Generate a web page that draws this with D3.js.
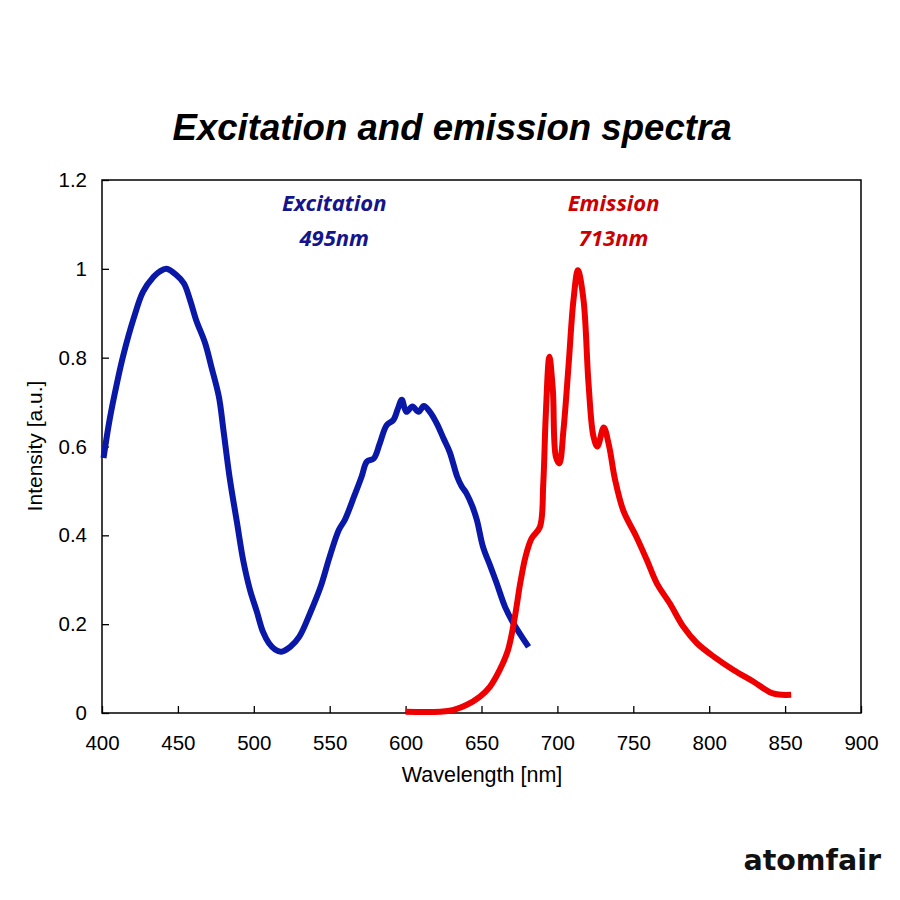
<!DOCTYPE html>
<html>
<head>
<meta charset="utf-8">
<script src="https://cdn.jsdelivr.net/npm/d3@7"></script>
<style>
  body { margin: 0; background: #fff; }
  svg { display: block; }
</style>
</head>
<body>
<svg id="chart" width="900" height="900"></svg>
<script>
// excitation spectrum (wavelength nm, intensity a.u.)
const excWave = [401, 405, 410, 414, 421, 427, 434, 438, 442.5, 449, 454, 458, 462, 468, 472, 477, 480, 484, 489, 493, 497.5, 502, 506, 510, 514, 518,
  524, 530, 537, 544, 550, 556, 560, 566, 571, 574.5, 579, 583, 587.5, 592, 595, 597.5, 600.5, 604.5, 608.5, 612, 616, 620.5, 625, 629, 634, 637, 640, 644, 647, 651, 656, 660, 665.5, 671, 676.5, 681];
const excVal = [0.574, 0.66, 0.745, 0.805, 0.89, 0.948, 0.982, 0.994, 1.0, 0.986, 0.967, 0.93, 0.885, 0.832, 0.78, 0.712, 0.637, 0.532, 0.427, 0.344, 0.277, 0.228, 0.183, 0.157, 0.143, 0.138,
  0.149, 0.172, 0.224, 0.284, 0.352, 0.412, 0.435, 0.487, 0.532, 0.566, 0.573, 0.607, 0.648, 0.66, 0.686, 0.705, 0.678, 0.69, 0.678, 0.691, 0.678, 0.652, 0.618, 0.588, 0.532, 0.51, 0.495, 0.465, 0.434, 0.374, 0.329, 0.292, 0.239, 0.202, 0.172, 0.149];

// emission spectrum
const emWave = [600, 629, 640, 649, 655.5, 662, 667.5, 672, 675.5, 679, 683, 688.5, 690.7, 692.3, 694.7, 697, 699, 701.3, 704, 707.3, 710.6, 713.5, 717.2, 720.5, 723.8, 726.4, 730.5, 734, 738, 743.5, 752, 759, 765.5, 774, 783, 792, 803, 816, 829, 842, 854];
const emVal = [0.003, 0.005, 0.018, 0.037, 0.059, 0.097, 0.142, 0.217, 0.292, 0.352, 0.393, 0.419, 0.517, 0.667, 0.802, 0.727, 0.577, 0.562, 0.637, 0.78, 0.93, 0.997, 0.93, 0.742, 0.622, 0.6, 0.643, 0.602, 0.525, 0.455, 0.397, 0.344, 0.292, 0.247, 0.194, 0.157, 0.127, 0.097, 0.071, 0.044, 0.041];

const xTicks = [400, 450, 500, 550, 600, 650, 700, 750, 800, 850, 900];
const yTicks = [0, 0.2, 0.4, 0.6, 0.8, 1, 1.2];

const labels = [
  { name: "Excitation", peak: "495nm", wave: 553, color: "#14148c" },
  { name: "Emission", peak: "713nm", wave: 737, color: "#cc0000" }
];

const mLeft = 102, mRight = 861, mTop = 180, mBottom = 713;
const svg = d3.select("#chart");

const x = d3.scaleLinear().domain([400, 900]).range([mLeft, mRight]);
const y = d3.scaleLinear().domain([0, 1.2]).range([mBottom, mTop]);

const axisFont = "'Liberation Sans', Arial, sans-serif";

// title
svg.append("text")
  .attr("x", 452).attr("y", 140)
  .attr("text-anchor", "middle")
  .style("font-family", axisFont)
  .style("font-weight", "bold")
  .style("font-style", "italic")
  .style("font-size", "36.6px")
  .text("Excitation and emission spectra");

// axes
const xAxis = svg.append("g")
  .attr("transform", `translate(0,${mBottom})`)
  .call(d3.axisBottom(x).tickValues(xTicks).tickSize(-7).tickPadding(22).tickFormat(d3.format("d")));
const yAxis = svg.append("g")
  .attr("transform", `translate(${mLeft},0)`)
  .call(d3.axisLeft(y).tickValues(yTicks).tickSize(-7).tickPadding(15).tickFormat(d => d));

[xAxis, yAxis].forEach(g => {
  g.select(".domain").remove();
  g.selectAll("line").attr("stroke", "#000").attr("stroke-width", 1.3);
  g.selectAll("text")
    .style("font-family", axisFont)
    .style("font-size", "20.5px")
    .attr("fill", "#000");
});

// frame
svg.append("rect")
  .attr("x", mLeft).attr("y", mTop)
  .attr("width", mRight - mLeft).attr("height", mBottom - mTop)
  .attr("fill", "none").attr("stroke", "#000").attr("stroke-width", 1.5);

// axis titles
svg.append("text")
  .attr("x", 482).attr("y", 782)
  .attr("text-anchor", "middle")
  .style("font-family", axisFont).style("font-size", "21.5px")
  .text("Wavelength [nm]");
svg.append("text")
  .attr("transform", "translate(42,446) rotate(-90)")
  .attr("text-anchor", "middle")
  .style("font-family", axisFont).style("font-size", "21px")
  .text("Intensity [a.u.]");

// spectra
const line = d3.line()
  .x(d => x(d[0]))
  .y(d => y(d[1]))
  .curve(d3.curveCatmullRom.alpha(0.5));

svg.append("path")
  .datum(d3.zip(excWave, excVal))
  .attr("d", line)
  .attr("fill", "none")
  .attr("stroke", "#0a18a8")
  .attr("stroke-width", 6)
  .attr("stroke-linejoin", "round");

svg.append("path")
  .datum(d3.zip(emWave, emVal))
  .attr("d", line)
  .attr("fill", "none")
  .attr("stroke", "#ee0000")
  .attr("stroke-width", 6)
  .attr("stroke-linejoin", "round");

// curve labels
const lab = svg.selectAll(".lab").data(labels).enter().append("g").attr("class", "lab");
lab.append("text")
  .attr("x", d => x(d.wave))
  .attr("y", 211)
  .text(d => d.name);
lab.append("text")
  .attr("x", d => x(d.wave))
  .attr("y", 246)
  .text(d => d.peak);
lab.selectAll("text")
  .attr("text-anchor", "middle")
  .attr("fill", d => d.color)
  .style("font-family", "'Open Sans', 'Noto Sans', sans-serif")
  .style("font-weight", "bold")
  .style("font-style", "italic")
  .style("font-size", "22px");

// brand
svg.append("text")
  .attr("x", 881).attr("y", 870)
  .attr("text-anchor", "end")
  .style("font-family", "'DejaVu Sans', sans-serif")
  .style("font-weight", "bold")
  .style("font-size", "28.5px")
  .attr("fill", "#111")
  .text("atomfair");
</script>
</body>
</html>
